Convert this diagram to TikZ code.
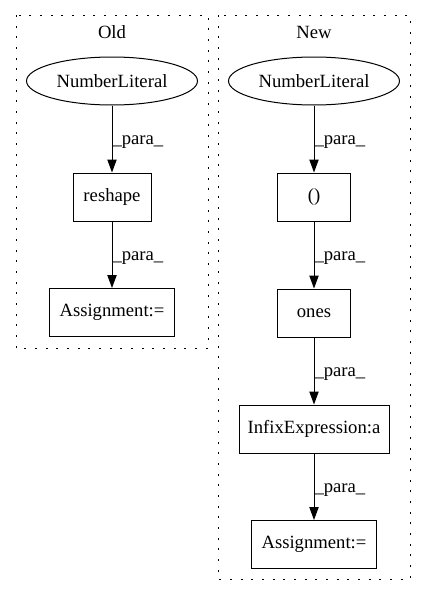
\documentclass[tikz,border=0pt]{standalone}
\usepackage{fontspec}
\setmainfont{Liberation Serif}
\usetikzlibrary{arrows.meta, shapes.geometric}

\begin{document}
\begin{tikzpicture}[
    x=0.75pt, y=-0.75pt,
    >={Triangle[length=9.75pt, width=7pt]},
    line width=0.75pt,
    font=\fontsize{14}{16}\selectfont,
    box/.style={draw, rectangle, minimum height=36pt, inner sep=0pt},
    lit/.style={draw, ellipse, minimum width=128.25pt, minimum height=36pt, inner sep=0pt},
    cluster/.style={draw, dash pattern=on 1.5pt off 6.5pt},
    lbl/.style={anchor=west, inner sep=0pt, pos=0.55}
]
    \useasboundingbox (0,0) rectangle (427,596);

    % Old cluster
    \draw[cluster] (16,15) rectangle (208,348);
    \node (oldtitle) at (112,32) {Old};
    \node[lit] (oldnum) at (112,81) {NumberLiteral};
    \node[box, minimum width=58.5pt] (reshape) at (112,197) {reshape};
    \node[box, minimum width=93.75pt] (oldassign) at (112,312.5) {Assignment:=};

    \draw[->] (oldnum) -- (reshape) node[lbl] {\_para\_};
    \draw[->] (reshape) -- (oldassign) node[lbl] {\_para\_};

    % New cluster
    \draw[cluster] (218,15) rectangle (410,579);
    \node (newtitle) at (314,32) {New};
    \node[lit] (newnum) at (314,81) {NumberLiteral};
    \node[box, minimum width=54.75pt] (paren) at (314,197) {()};
    \node[box, minimum width=54.75pt] (ones) at (314,313) {ones};
    \node[box, minimum width=112.5pt] (infix) at (314,429) {InfixExpression:a};
    \node[box, minimum width=93.75pt] (newassign) at (314,544.5) {Assignment:=};

    \draw[->] (newnum) -- (paren) node[lbl] {\_para\_};
    \draw[->] (paren) -- (ones) node[lbl] {\_para\_};
    \draw[->] (ones) -- (infix) node[lbl] {\_para\_};
    \draw[->] (infix) -- (newassign) node[lbl] {\_para\_};

\end{tikzpicture}
\end{document}
